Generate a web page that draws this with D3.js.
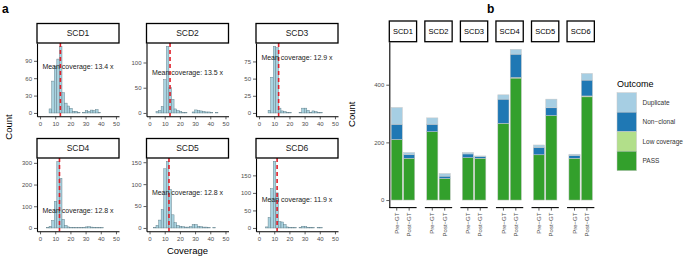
<!DOCTYPE html>
<html>
<head>
<meta charset="utf-8">
<script src="https://cdn.jsdelivr.net/npm/d3@7"></script>
<style>
body { margin: 0; background: #fff; }
svg { display: block; font-family: "Liberation Sans", Arial, sans-serif; }
</style>
</head>
<body>
<div id="chart"></div>
<script>
// ---- panel a: coverage histograms (30 bins, width 1.7, centred on 0, 1.7, 3.4 ...)
const samples = ["SCD1", "SCD2", "SCD3", "SCD4", "SCD5", "SCD6"];
const binWidth = 1.7;
const scd1Counts = [0,0,0,0,7,55,80,93,115,35,17,12,8,3,3,1,0,1,4,3,5,4,6,1,0,0,0,0,0,0];
const scd2Counts = [0,0,0,3,5,13,66,132,50,27,8,5,3,1,1,0,0,2,6,5,4,3,2,2,1,0,1,0,0,0];
const scd3Counts = [0,0,0,0,4,52,97,95,7,3,2,1,1,0,0,0,1,7,7,4,1,3,2,1,1,0,0,0,0,0];
const scd4Counts = [0,0,0,2,8,35,123,307,229,40,12,5,3,2,1,1,1,3,5,6,4,3,2,1,1,0,0,0,0,0];
const scd5Counts = [0,0,1,6,18,42,135,152,88,30,12,6,4,3,2,2,3,8,8,4,3,2,2,1,0,1,0,0,0,0];
const scd6Counts = [0,0,0,3,30,112,190,100,18,17,10,3,2,1,1,0,2,5,4,2,2,1,0,2,1,0,0,0,0,0];
const meanCoverage = [13.4, 13.5, 12.9, 12.8, 12.8, 11.9];
const coverageTicks = [0, 10, 20, 30, 40, 50];
const countTicks = [[0,30,60,90], [0,50,100], [0,25,50,75], [0,100,200,300], [0,50,100,150], [0,50,100,150]];

// ---- panel b: outcome per sample, [Pre-GT, Post-GT]
const stages = ["Pre\u2212GT", "Post\u2212GT"];
const outcomes = ["Duplicate", "Non\u2212clonal", "Low coverage", "PASS"];
const passCounts      = [[210,145], [237,75], [147,145], [266,423], [157,293], [145,358]];
const lowCovCounts    = [[0,0], [0,0], [0,0], [0,2], [0,0], [0,3]];
const nonClonalCounts = [[53,13], [26,8], [13,6], [84,81], [26,27], [10,55]];
const duplicateCounts = [[58,7], [22,9], [5,2], [15,17], [8,30], [4,23]];
const outcomeTicks = [0, 200, 400];

const width = 685, height = 257;
const svg = d3.select("#chart").append("svg")
    .attr("width", width)
    .attr("height", height);

const tickColor = "#4d4d4d";

function styleAxis(g) {
    g.select(".domain").attr("stroke", "#000").attr("stroke-width", 1.1);
    g.selectAll(".tick line").attr("stroke", "#333").attr("stroke-width", 0.8);
    g.selectAll(".tick text").attr("fill", tickColor).attr("font-size", "6px");
}

svg.append("text").attr("x", 2).attr("y", 13)
    .attr("font-size", "12px").attr("font-weight", "bold").text("a");
svg.append("text").attr("x", 487).attr("y", 13)
    .attr("font-size", "12px").attr("font-weight", "bold").text("b");

// ---------------- panel a
const histCounts = [scd1Counts, scd2Counts, scd3Counts, scd4Counts, scd5Counts, scd6Counts];
const colLeft = [37, 146.5, 256];
const rowTop = [43, 158];
const cellW = 82, cellH = 73.3, stripH = 19.5;

samples.forEach(function(name, i) {
    const left = colLeft[i % 3];
    const top = rowTop[Math.floor(i / 3)];
    const counts = histCounts[i];
    const maxCount = d3.max(counts);

    const x = d3.scaleLinear().domain([-2, 52]).range([left, left + cellW]);
    const y = d3.scaleLinear().domain([-0.05 * maxCount, 1.05 * maxCount]).range([top + cellH, top]);

    const bins = counts.map((c, k) => ({ x0: k * binWidth - binWidth / 2, x1: k * binWidth + binWidth / 2, count: c }));

    svg.append("g").selectAll("rect")
        .data(bins)
        .join("rect")
        .attr("x", d => x(d.x0))
        .attr("width", d => x(d.x1) - x(d.x0))
        .attr("y", d => y(d.count))
        .attr("height", d => y(0) - y(d.count))
        .attr("fill", "#a9d3e0")
        .attr("stroke", "#5f7d88")
        .attr("stroke-width", 0.45);

    svg.append("line")
        .attr("x1", x(meanCoverage[i])).attr("x2", x(meanCoverage[i]))
        .attr("y1", top).attr("y2", top + cellH)
        .attr("stroke", "#e0202a")
        .attr("stroke-width", 1.6)
        .attr("stroke-dasharray", "4,3");

    svg.append("text")
        .attr("x", x(25)).attr("y", y(80))
        .attr("dy", "0.35em")
        .attr("text-anchor", "middle")
        .attr("font-size", "7px")
        .attr("fill", "#222")
        .text("Mean coverage: " + meanCoverage[i] + " x");

    svg.append("g")
        .attr("transform", `translate(0,${top + cellH})`)
        .call(d3.axisBottom(x).tickValues(coverageTicks).tickSize(3).tickSizeOuter(0).tickPadding(2))
        .call(styleAxis);

    svg.append("g")
        .attr("transform", `translate(${left},0)`)
        .call(d3.axisLeft(y).tickValues(countTicks[i]).tickSize(3).tickSizeOuter(0).tickPadding(2))
        .call(styleAxis);

    svg.append("rect")
        .attr("x", left).attr("y", top - stripH)
        .attr("width", cellW).attr("height", stripH)
        .attr("fill", "#fff").attr("stroke", "#000").attr("stroke-width", 1.3);
    svg.append("text")
        .attr("x", left + cellW / 2).attr("y", top - stripH / 2)
        .attr("dy", "0.35em")
        .attr("text-anchor", "middle")
        .attr("font-size", "8.5px")
        .attr("fill", "#1a1a1a")
        .text(name);
});

svg.append("text")
    .attr("transform", `translate(12,${(23 + 231) / 2}) rotate(-90)`)
    .attr("text-anchor", "middle")
    .attr("font-size", "9.5px")
    .text("Count");
svg.append("text")
    .attr("x", (37 + 338) / 2).attr("y", 254)
    .attr("text-anchor", "middle")
    .attr("font-size", "9.5px")
    .text("Coverage");

// ---------------- panel b
const colorScale = d3.scaleOrdinal()
    .domain(outcomes)
    .range(["#a6cee3", "#1f78b4", "#b2df8a", "#33a02c"]);

const rows = [];
samples.forEach(function(name, i) {
    stages.forEach(function(stage, j) {
        const r = { sample: name, stage: stage };
        r["PASS"] = passCounts[i][j];
        r["Low coverage"] = lowCovCounts[i][j];
        r["Non\u2212clonal"] = nonClonalCounts[i][j];
        r["Duplicate"] = duplicateCounts[i][j];
        rows.push(r);
    });
});

const stackKeys = outcomes.slice().reverse();
const maxTotal = d3.max(rows, r => d3.sum(stackKeys, k => r[k]));

const bLeft0 = 389.3, bStep = 35.55, bW = 27.3;
const bTop = 41.7, bBottom = 207.6, bStripTop = 21;

const yB = d3.scaleLinear()
    .domain([-0.05 * maxTotal, 1.05 * maxTotal])
    .range([bBottom, bTop]);

samples.forEach(function(name, i) {
    const left = bLeft0 + i * bStep;
    const xB = d3.scaleBand().domain(stages)
        .range([left, left + bW])
        .paddingInner(0.1)
        .paddingOuter(0.15);

    const panelRows = rows.filter(r => r.sample === name);
    const stacked = d3.stack().keys(stackKeys)(panelRows);

    svg.append("g").selectAll("g")
        .data(stacked)
        .join("g")
        .attr("fill", d => colorScale(d.key))
        .selectAll("rect")
        .data(d => d)
        .join("rect")
        .attr("x", d => xB(d.data.stage))
        .attr("width", xB.bandwidth())
        .attr("y", d => yB(d[1]))
        .attr("height", d => yB(d[0]) - yB(d[1]))
        .attr("stroke", "#c8c8c8")
        .attr("stroke-width", 0.5);

    const xAxis = svg.append("g")
        .attr("transform", `translate(0,${bBottom})`)
        .call(d3.axisBottom(xB).tickSize(3).tickSizeOuter(0).tickPadding(2))
        .call(styleAxis);
    xAxis.select(".domain").attr("d", `M${left},0H${left + bW}`);
    xAxis.selectAll(".tick text")
        .attr("transform", "rotate(-90)")
        .attr("text-anchor", "end")
        .attr("x", -5)
        .attr("y", 0)
        .attr("dy", "0.35em");

    svg.append("rect")
        .attr("x", left).attr("y", bStripTop)
        .attr("width", bW).attr("height", bTop - bStripTop)
        .attr("fill", "#fff").attr("stroke", "#000").attr("stroke-width", 1.3);
    svg.append("text")
        .attr("x", left + bW / 2).attr("y", (bStripTop + bTop) / 2)
        .attr("dy", "0.35em")
        .attr("text-anchor", "middle")
        .attr("font-size", "7.5px")
        .attr("fill", "#000")
        .text(name);
});

svg.append("g")
    .attr("transform", `translate(${bLeft0},0)`)
    .call(d3.axisLeft(yB).tickValues(outcomeTicks).tickSize(3).tickSizeOuter(0).tickPadding(2))
    .call(styleAxis);

svg.append("text")
    .attr("transform", `translate(355,${(bStripTop + bBottom) / 2}) rotate(-90)`)
    .attr("text-anchor", "middle")
    .attr("font-size", "9.5px")
    .text("Count");

// legend
const legendX = 617, legendY = 92.7, keySize = 19.5;
svg.append("text")
    .attr("x", legendX).attr("y", 87)
    .attr("font-size", "9px")
    .text("Outcome");
outcomes.forEach(function(o, k) {
    svg.append("rect")
        .attr("x", legendX).attr("y", legendY + k * keySize)
        .attr("width", keySize).attr("height", keySize)
        .attr("fill", colorScale(o))
        .attr("stroke", "#c8c8c8").attr("stroke-width", 0.5);
    svg.append("text")
        .attr("x", legendX + keySize + 6).attr("y", legendY + k * keySize + keySize / 2)
        .attr("dy", "0.35em")
        .attr("font-size", "6.5px")
        .attr("fill", "#333")
        .text(o);
});
</script>
</body>
</html>
